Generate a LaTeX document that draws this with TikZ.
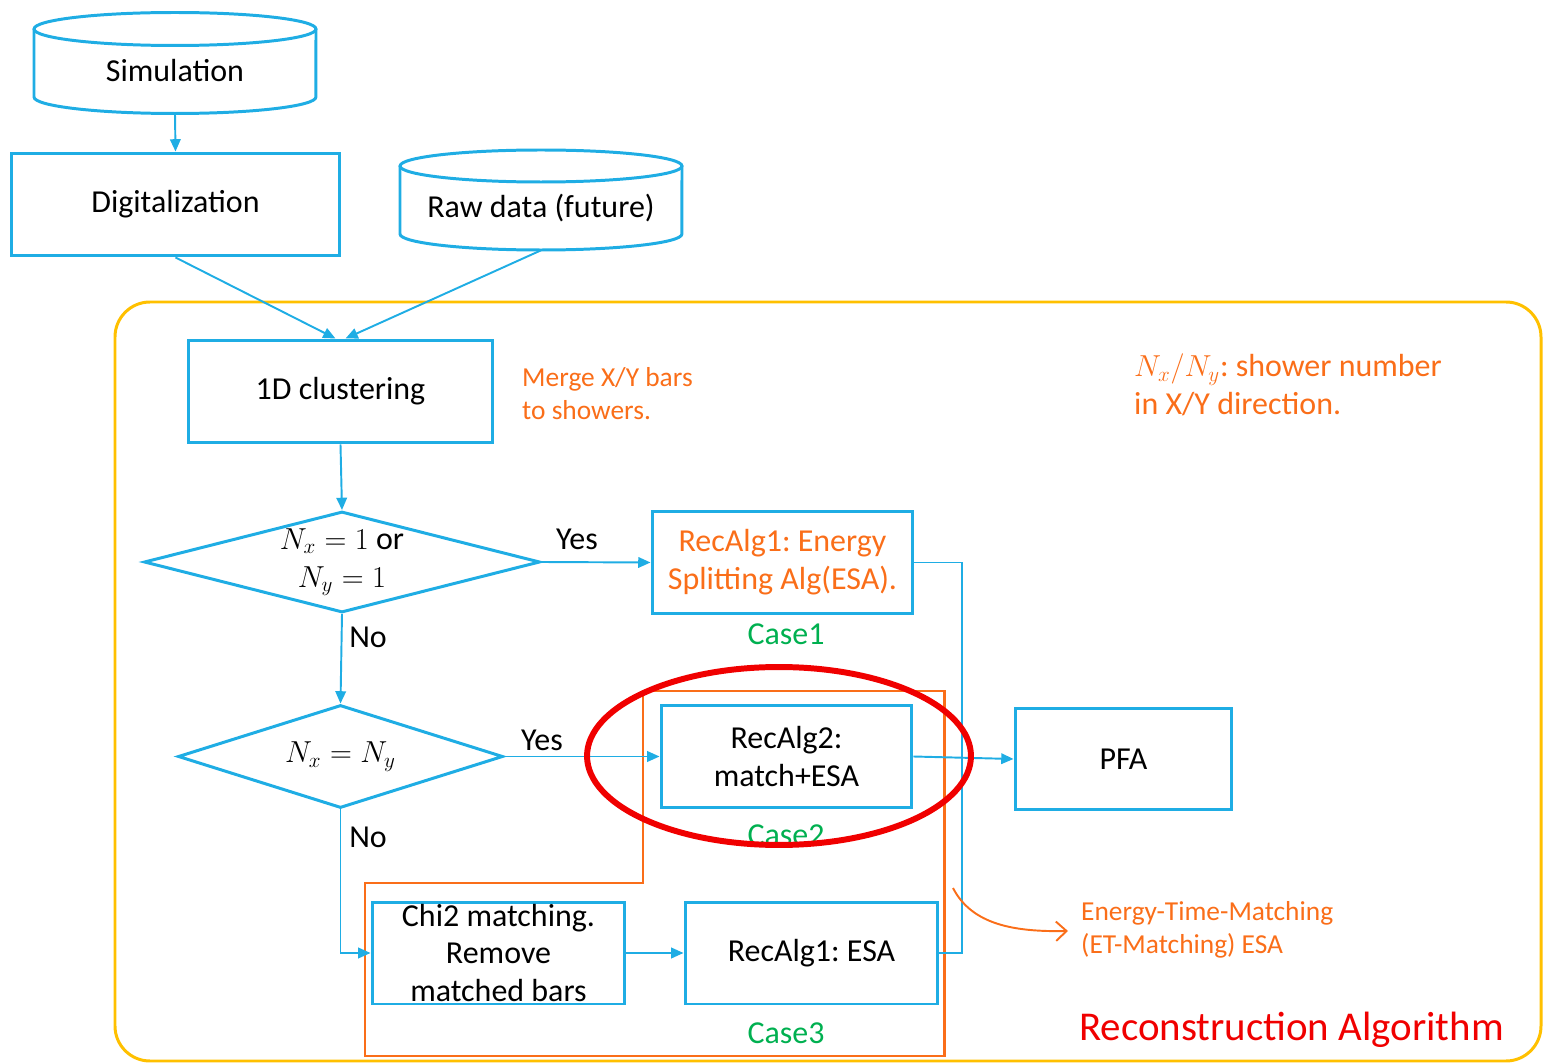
\documentclass[tikz,border=0pt]{standalone}
\usepackage{fontspec}
\setmainfont{Carlito}
\usetikzlibrary{shapes.geometric,arrows.meta,positioning}
\definecolor{cblue}{RGB}{31,173,228}
\definecolor{corange}{RGB}{250,110,25}
\definecolor{cyellow}{RGB}{255,192,0}
\definecolor{cgreen}{RGB}{0,176,80}
\definecolor{cred}{RGB}{240,0,0}
\newcommand\mainsize{\fontsize{18.2}{21.6}\selectfont}
\newcommand\smallsize{\fontsize{15.6}{18.8}\selectfont}
\newcommand\bigsize{\fontsize{23.3}{27}\selectfont}
\frenchspacing

\begin{document}
\begin{tikzpicture}[x=0.02cm,y=-0.02cm,font=\mainsize,
	box/.style={draw=cblue,line width=1.7pt,inner sep=0pt,minimum height=2.06cm,align=center},
	dia/.style={draw=cblue,line width=1.7pt,diamond,inner sep=0pt,align=center},
	arr/.style={draw=cblue,line width=1.1pt,-{Triangle[length=7pt,width=6pt]}},
	lnk/.style={draw=cblue,line width=1.1pt},
	cyl/.style={draw=cblue,line width=1.7pt},
	note/.style={text=corange,font=\smallsize,align=left,anchor=west},
	case/.style={text=cgreen}]
	\useasboundingbox (0,0) rectangle (1543,1064);
	% frame of the algorithm part
	\draw [cyellow, line width=1.7pt, rounded corners=0.7cm] (115,302) rectangle (1541,1061);
	% the two cylinders
	\draw [cyl] (175,29) ellipse [x radius=2.82cm, y radius=0.33cm];
	\draw [cyl] (34,29) -- (34,97) arc [start angle=180, end angle=360, x radius=2.82cm, y radius=0.33cm] -- (316,29);
	\draw [cyl] (541,166) ellipse [x radius=2.82cm, y radius=0.32cm];
	\draw [cyl] (400,166) -- (400,234) arc [start angle=180, end angle=360, x radius=2.82cm, y radius=0.32cm] -- (682,166);
	\node [minimum width=5.64cm, minimum height=1.68cm, inner sep=0pt] (sim) at (175,71) {Simulation};
	\node [minimum width=5.64cm, minimum height=1.68cm, inner sep=0pt] (raw) at (541,208) {Raw data (future)};
	% case region
	\draw [corange, line width=1.7pt] (643,883) -- (643,691) -- (944,691) -- (944,1056) -- (365,1056) -- (365,883) -- cycle;
	% boxes
	\node [box, minimum width=6.58cm] (dig) at (175.5,204.5) {Digitalization};
	\node [box, minimum width=6.1cm] (clu) at (340.5,391.5) {1D clustering};
	\node [dia, aspect=3.92, minimum width=7.92cm, minimum height=2.02cm] (d1) at (342,562) {$N_x = 1$ or\\$N_y = 1$};
	\node [dia, aspect=3.16, minimum width=6.5cm, minimum height=2.06cm] (d2) at (340.5,756.5) {$N_x = N_y$};
	\node [box, minimum width=5.22cm, text=corange] (r1) at (782.5,562.5) {RecAlg1: Energy\\Splitting Alg(ESA).};
	\node [box, minimum width=5.02cm] (r2) at (786.5,756.5) {RecAlg2:\\match+ESA};
	\node [box, minimum width=4.34cm, minimum height=2.04cm] (pfa) at (1123.5,759) {PFA};
	\node [box, minimum width=5.06cm, minimum height=2.04cm] (chi) at (498.5,953) {Chi2 matching.\\Remove\\matched bars};
	\node [box, minimum width=5.06cm, minimum height=2.04cm] (esa) at (811.5,953) {RecAlg1: ESA};
	\coordinate (j) at (962,757);
	% connectors
	\draw [arr] (sim.south) -- (dig.north);
	\draw [arr] (dig.south) -- ([xshift=-0.1cm]clu.north);
	\draw [arr] (raw.south) -- ([xshift=0.1cm]clu.north);
	\draw [arr] (clu.south) -- (d1.north);
	\draw [arr] (d1.east) -- (r1.west);
	\draw [arr] (d1.south) -- (d2.north);
	\draw [arr] (d2.east) -- (r2.west);
	\draw [arr] (d2.south) |- (chi.west);
	\draw [arr] (chi.east) -- (esa.west);
	\draw [lnk] (r1.east) -| (j);
	\draw [lnk] (esa.east) -| (j);
	\draw [arr] (r2.east) -- (pfa.west);
	% labels
	\node (y1) at (577,539) {Yes};
	\node (n1) at (368,637) {No};
	\node (y2) at (542,740) {Yes};
	\node (n2) at (368,837) {No};
	\node [case] (c1) at (786,634) {Case1};
	\node [case] (c2) at (786,835) {Case2};
	\node [case] (c3) at (786,1033) {Case3};
	\node [note] (mrg) at (516,394) {Merge X/Y bars\\to showers.};
	\node [note, font=\mainsize] (nxy) at (1128,385) {$N_x/N_y$: shower number\\in X/Y direction.};
	\node [note] (etm) at (1075,930) {Energy-Time-Matching\\(ET-Matching) ESA};
	\node [anchor=west, text=cred, font=\bigsize] (rec) at (1073,1030) {Reconstruction Algorithm};
	\coordinate (ca) at (953,888);
	\coordinate (cb) at (1068,931);
	\draw [corange, line width=1.1pt, -{Straight Barb[length=6pt,width=11pt]}] (ca) .. controls (972,925) and (1015,932) .. (cb);
	% highlight
	\draw [cred, line width=3.4pt] (779,756) ellipse [x radius=3.84cm, y radius=1.78cm];
\end{tikzpicture}
\end{document}
